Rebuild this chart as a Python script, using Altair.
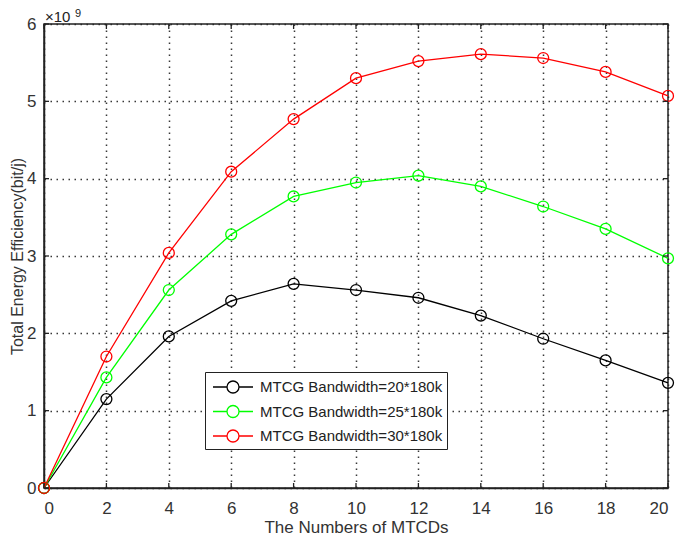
import altair as alt
import pandas as pd

x_vals = [0, 2, 4, 6, 8, 10, 12, 14, 16, 18, 20]
series_names = ["MTCG Bandwidth=20*180k", "MTCG Bandwidth=25*180k", "MTCG Bandwidth=30*180k"]
black_vals = [0, 1.15, 1.96, 2.42, 2.64, 2.56, 2.46, 2.23, 1.93, 1.65, 1.36]
green_vals = [0, 1.43, 2.56, 3.28, 3.77, 3.95, 4.04, 3.90, 3.64, 3.35, 2.97]
red_vals = [0, 1.70, 3.04, 4.09, 4.77, 5.30, 5.52, 5.61, 5.56, 5.38, 5.07]
colors = ["#000000", "#00ff00", "#ff0000"]
x_ticks = [0, 2, 4, 6, 8, 10, 12, 14, 16, 18, 20]
y_ticks = [0, 1, 2, 3, 4, 5, 6]

rows = []
for name, vals in zip(series_names, [black_vals, green_vals, red_vals]):
    for xv, yv in zip(x_vals, vals):
        rows.append({"x": xv, "y": yv, "series": name})
df = pd.DataFrame(rows)

FONT = "Liberation Sans"
W, H = 624, 464

xscale = alt.Scale(domain=[0, 20], nice=False)
yscale = alt.Scale(domain=[0, 6], nice=False)

base = alt.Chart(df)

symbol_path = "M-2,0L-0.6,0M0.6,0L2,0M-0.6,0A0.6,0.6,0,1,1,0.6,0A0.6,0.6,0,1,1,-0.6,0"

lines = base.mark_line(strokeWidth=1.3, point=alt.OverlayMarkDef(filled=False, size=120, strokeWidth=1.3)).encode(
    x=alt.X("x:Q", scale=xscale,
            axis=alt.Axis(values=x_ticks, title="The Numbers of MTCDs", grid=True, format="d",
                          gridDash=[1.5, 4.5], gridColor="#222222", gridWidth=1.5, gridOpacity=0.9,
                          ticks=False, labelPadding=12, titlePadding=3)),
    y=alt.Y("y:Q", scale=yscale,
            axis=alt.Axis(values=y_ticks, title="Total Energy Efficiency(bit/j)", grid=True, format="d",
                          gridDash=[1.5, 4.5], gridColor="#222222", gridWidth=1.5, gridOpacity=0.9,
                          ticks=False, labelPadding=8, titlePadding=1, titleFontSize=16)),
    color=alt.Color("series:N", scale=alt.Scale(domain=series_names, range=colors),
                    legend=alt.Legend(title=None, orient="none", legendX=161, legendY=348,
                                      symbolType=symbol_path, symbolSize=400, symbolStrokeWidth=1.3,
                                      symbolFillColor="transparent",
                                      labelFont=FONT, labelFontSize=15, labelColor="#222222",
                                      labelLimit=400,
                                      strokeColor="#222222", fillColor="white", padding=4,
                                      rowPadding=4.5, labelOffset=16, symbolOffset=13)),
)

# inward ticks
tick_len = 0.065
xt = pd.DataFrame({"x": x_ticks})
yt = pd.DataFrame({"y": y_ticks})
tick_bottom = alt.Chart(xt).mark_rule(color="#222222", strokeWidth=1.3).encode(
    x="x:Q", y=alt.datum(0), y2=alt.datum(tick_len))
tick_top = alt.Chart(xt).mark_rule(color="#222222", strokeWidth=1.3).encode(
    x="x:Q", y=alt.datum(6), y2=alt.datum(6 - tick_len))
xl = 5 / 31.2
tick_left = alt.Chart(yt).mark_rule(color="#222222", strokeWidth=1.3).encode(
    y="y:Q", x=alt.datum(0), x2=alt.datum(xl))
tick_right = alt.Chart(yt).mark_rule(color="#222222", strokeWidth=1.3).encode(
    y="y:Q", x=alt.datum(20), x2=alt.datum(20 - xl))

exp_base = alt.Chart(pd.DataFrame({"t": ["\u00d710"]})).mark_text(
    font=FONT, fontSize=15, align="left", baseline="alphabetic", color="#222222").encode(
    text="t:N", x=alt.value(1), y=alt.value(-2))
exp_sup = alt.Chart(pd.DataFrame({"t": ["9"]})).mark_text(
    font=FONT, fontSize=11, align="left", baseline="alphabetic", color="#222222").encode(
    text="t:N", x=alt.value(31), y=alt.value(-7))

chart = alt.layer(lines, tick_bottom, tick_top, tick_left, tick_right, exp_base, exp_sup).properties(
    width=W, height=H,
    autosize=alt.AutoSizeParams(type="none"),
    padding={"left": 36, "top": 16, "right": 9, "bottom": 48},
).configure_axis(
    labelFont=FONT, labelFontSize=17, labelColor="#333333",
    titleFont=FONT, titleFontSize=17, titleFontWeight="normal", titleColor="#333333",
    domainColor="#222222", domainWidth=1.5,
).configure_view(stroke="#222222", strokeWidth=1.5)

chart.save("out.html", embed_options={"renderer": "svg", "actions": False})
